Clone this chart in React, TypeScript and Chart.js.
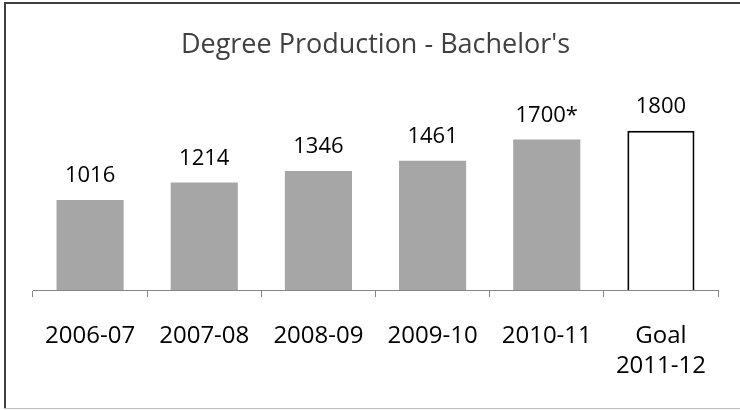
import React, { useEffect, useRef } from "react";
import { Chart, registerables } from "chart.js";

Chart.register(...registerables);

const categories: (string | string[])[] = ["2006-07", "2007-08", "2008-09", "2009-10", "2010-11", ["Goal", "2011-12"]];
const degrees: number[] = [1016, 1214, 1346, 1461, 1700, 1800];
const valueLabels: string[] = ["1016", "1214", "1346", "1461", "1700*", "1800"];
const barFills: string[] = ["#A6A6A6", "#A6A6A6", "#A6A6A6", "#A6A6A6", "#A6A6A6", "#FFFFFF"];
const barBorders: string[] = ["#A6A6A6", "#A6A6A6", "#A6A6A6", "#A6A6A6", "#A6A6A6", "#000000"];
const barBorderWidths: number[] = [0, 0, 0, 0, 0, 2];
const titleText = "Degree Production - Bachelor's";

const FONT = "'Open Sans', 'Noto Sans', sans-serif";

const frame = {
  id: "frame",
  beforeDraw(chart: any) {
    const ctx = chart.ctx;
    ctx.save();
    ctx.fillStyle = "#FFFFFF";
    ctx.fillRect(0, 0, chart.width, chart.height);
    ctx.fillStyle = "#404040";
    ctx.fillRect(4, 2, 2, 407);
    ctx.fillRect(4, 2, chart.width - 4, 2);
    ctx.fillStyle = "#BFBFBF";
    ctx.fillRect(4, 408, chart.width - 4, 1);
    ctx.restore();
  },
};

const valueLabelPlugin = {
  id: "valueLabels",
  afterDatasetsDraw(chart: any) {
    const ctx = chart.ctx;
    const meta = chart.getDatasetMeta(0);
    ctx.save();
    ctx.font = `22px ${FONT}`;
    ctx.fillStyle = "#000000";
    ctx.textAlign = "center";
    ctx.textBaseline = "middle";
    meta.data.forEach((bar: any, i: number) => {
      ctx.fillText(valueLabels[i], bar.x, bar.y - 24);
    });
    ctx.restore();
  },
};

export default function App() {
  const ref = useRef<HTMLCanvasElement | null>(null);
  useEffect(() => {
    document.body.style.margin = "0";
    if (!ref.current) return;
    const chart = new Chart(ref.current, {
      type: "bar",
      data: {
        labels: categories,
        datasets: [
          {
            data: degrees,
            backgroundColor: barFills,
            borderColor: barBorders,
            borderWidth: barBorderWidths,
            categoryPercentage: 1,
            barPercentage: 0.588,
          },
        ],
      },
      options: {
        animation: false,
        responsive: false,
        maintainAspectRatio: false,
        devicePixelRatio: 1,
        layout: { padding: { left: 33, right: 22, top: 0, bottom: 0 } },
        plugins: {
          legend: { display: false },
          tooltip: { enabled: false },
          title: {
            display: true,
            text: titleText,
            color: "#404040",
            font: { family: FONT, size: 27, weight: "normal", lineHeight: 1.2 },
            padding: { top: 29, bottom: 51.6 },
          },
        },
        scales: {
          y: {
            display: false,
            min: 0,
            max: 2000,
          },
          x: {
            afterFit(scale: any) {
              scale.height = 120;
            },
            grid: {
              offset: true,
              drawOnChartArea: false,
              drawTicks: true,
              tickLength: 7,
              color: "#868686",
              lineWidth: 1,
            },
            border: { display: true, color: "#868686", width: 1 },
            ticks: {
              color: "#000000",
              padding: 25,
              maxRotation: 0,
              autoSkip: false,
              font: { family: FONT, size: 24, lineHeight: 1.22 },
            },
          },
        },
      },
      plugins: [frame, valueLabelPlugin],
    });
    return () => chart.destroy();
  }, []);
  return (
    <div style={{ width: 740, height: 410 }}>
      <canvas ref={ref} width={740} height={410} style={{ display: "block" }} />
    </div>
  );
}
